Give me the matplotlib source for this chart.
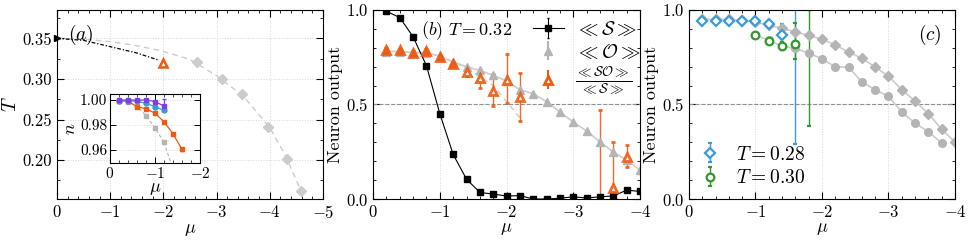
import matplotlib
matplotlib.use('Agg')
import matplotlib.pyplot as plt
from matplotlib.ticker import AutoMinorLocator, MultipleLocator

plt.rcParams['font.family'] = 'serif'
plt.rcParams['font.serif'] = ['cmr10', 'DejaVu Serif']
plt.rcParams['mathtext.fontset'] = 'cm'
plt.rcParams['axes.formatter.use_mathtext'] = True
plt.rcParams['axes.unicode_minus'] = True

ORANGE = '#ee5a10'
GRAY = '#b4b4b4'
LGRAY = '#cccccc'
BLUE = '#3b9bd6'
GREEN = '#2e9a2e'
PURPLE = '#7f3fe0'

# ---- panel (a): phase boundary
a_fit_mu = [0, -0.5, -1, -1.5, -2, -2.5, -3, -3.5, -4, -4.3, -4.6, -4.68]
a_fit_T = [0.35, 0.349, 0.346, 0.341, 0.334, 0.324, 0.304, 0.279, 0.240, 0.205, 0.160, 0.150]
a_pts_mu = [-2.64, -3.11, -3.47, -3.97, -4.33, -4.58]
a_pts_T = [0.3205, 0.300, 0.281, 0.2406, 0.2008, 0.162]
a_dot_mu = [0, -0.5, -1.0, -1.5, -1.9]
a_dot_T = [0.35, 0.3475, 0.3398, 0.332, 0.3234]
a_tri_mu = [-2.0]
a_tri_T = [0.32]

# inset: n vs mu
in_mu = [-0.2, -0.4, -0.6, -0.8, -1.0, -1.2, -1.4, -1.6]
in_purple = [1.0, 1.0, 1.0, 1.0, 0.9988, 0.9952]
in_cyan = [0.9995, 0.9995, 0.999, 0.9974, 0.9947, 0.9917]
in_orange = [0.9995, 0.999, 0.9947, 0.993, 0.9895, 0.9826, 0.973, 0.9605]
in_gray = [0.9994, 0.9986, 0.9954, 0.9874, 0.9778, 0.9662]
in_gray_tail_mu = [-1.2, -1.35]
in_gray_tail = [0.9662, 0.95]

# ---- panel (b): T = 0.32
b_mu = [-0.2, -0.4, -0.6, -0.8, -1.0, -1.2, -1.4, -1.6, -1.8, -2.0,
        -2.2, -2.4, -2.6, -2.8, -3.0, -3.2, -3.4, -3.6, -3.8, -4.0]
b_S = [0.993, 0.96, 0.858, 0.705, 0.452, 0.236, 0.105, 0.035, 0.026, 0.016,
       0.018, 0.0, 0.0, 0.004, 0.012, 0.005, 0.012, 0.016, 0.047, 0.04]
b_O = [0.78, 0.78, 0.775, 0.775, 0.755, 0.725, 0.70, 0.68, 0.654, 0.625,
       0.578, 0.557, 0.515, 0.46, 0.407, 0.36, 0.302, 0.249, 0.205, 0.153]
b_O_dash_mu = [-1.0, -1.4, -1.8, -2.2]
b_O_dash = [0.755, 0.695, 0.60, 0.43]
b_SO_mu = [-0.2, -0.4, -0.6, -0.8, -1.0, -1.2, -1.4, -1.6, -1.8, -2.0,
           -2.2, -3.4, -3.6, -3.8]
b_SO = [0.789, 0.786, 0.775, 0.782, 0.75, 0.715, 0.671, 0.638, 0.571, 0.631,
        0.539, -0.03, 0.056, 0.223]
b_SO_lo = [0.01, 0.01, 0.01, 0.01, 0.01, 0.01, 0.02, 0.049, 0.081, 0.123,
           0.128, 0.0, 0.056, 0.053]
b_SO_hi = [0.01, 0.01, 0.01, 0.01, 0.01, 0.01, 0.02, 0.046, 0.088, 0.137,
           0.129, 0.50, 0.246, 0.062]

# ---- panel (c): T = 0.28 and T = 0.30
c_mu = [-0.2, -0.4, -0.6, -0.8, -1.0, -1.2, -1.4, -1.6, -1.8, -2.0,
        -2.2, -2.4, -2.6, -2.8, -3.0, -3.2, -3.4, -3.6, -3.8, -4.0]
c_up = [0.95, 0.95, 0.95, 0.945, 0.935, 0.92, 0.903, 0.884, 0.865, 0.845,
        0.815, 0.777, 0.745, 0.698, 0.650, 0.578, 0.518, 0.452, 0.368, 0.302]
c_lo_mu = [-1.0, -1.2, -1.4, -1.6, -1.8, -2.0, -2.2, -2.4, -2.6, -2.8,
           -3.0, -3.2, -3.4, -3.6, -3.8]
c_lo = [0.868, 0.84, 0.808, 0.797, 0.771, 0.742, 0.698, 0.698, 0.619, 0.578,
        0.543, 0.46, 0.402, 0.355, 0.297]
c28_mu = [-0.2, -0.4, -0.6, -0.8, -1.0, -1.2, -1.4, -1.6]
c28 = [0.944, 0.944, 0.944, 0.944, 0.94, 0.926, 0.868, 1.05]
c28_lo = [0.005, 0.005, 0.005, 0.005, 0.01, 0.01, 0.02, 0.76]
c28_hi = [0.005, 0.005, 0.005, 0.005, 0.01, 0.01, 0.06, 0.0]
c30_mu = [-1.0, -1.2, -1.4, -1.6, -1.8]
c30 = [0.868, 0.838, 0.812, 0.821, 1.02]
c30_lo = [0.01, 0.01, 0.025, 0.078, 0.635]
c30_hi = [0.01, 0.01, 0.02, 0.11, 0.0]


def style(ax, xmax, ymaj, ymin_div):
    ax.set_xlim(0, xmax)
    ax.xaxis.set_major_locator(MultipleLocator(1))
    ax.xaxis.set_minor_locator(AutoMinorLocator(5))
    ax.yaxis.set_major_locator(MultipleLocator(ymaj))
    ax.yaxis.set_minor_locator(AutoMinorLocator(ymin_div))
    ax.tick_params(which='both', direction='in', top=True, right=True, labelsize=12)
    ax.tick_params(which='major', length=5, width=0.8)
    ax.tick_params(which='minor', length=2.5, width=0.6)
    ax.grid(True, ls=':', color='#d8d8d8', lw=0.7)
    ax.set_axisbelow(True)
    ax.set_xlabel(r'$\mu$', fontsize=13, labelpad=1)


fig = plt.figure(figsize=(9.69, 2.43), dpi=100)
axa = fig.add_axes([0.0588, 0.181, 0.2745, 0.778])
axb = fig.add_axes([0.385, 0.181, 0.2755, 0.778])
axc = fig.add_axes([0.711, 0.181, 0.2745, 0.778])

# (a)
style(axa, -5, 0.05, 2)
axa.set_ylim(0.152, 0.385)
axa.yaxis.set_major_formatter(matplotlib.ticker.FormatStrFormatter('%.2f'))
axa.plot(a_fit_mu, a_fit_T, ls=(0, (4, 3)), color=LGRAY, lw=1.0)
axa.plot(a_pts_mu, a_pts_T, 'D', color=LGRAY, ms=5.5, mec=LGRAY)
axa.plot(a_dot_mu, a_dot_T, ls=(0, (3, 1.5, 1, 1.5)), color='black', lw=0.9)
axa.plot([a_dot_mu[0]], [a_dot_T[0]], '>', color='black', ms=5, clip_on=False)
axa.plot(a_tri_mu, a_tri_T, '^', mfc='white', mec=ORANGE, mew=1.8, ms=6)
axa.set_ylabel(r'$T$', fontsize=14, labelpad=2)
axa.text(0.04, 0.93, r'$(a)$', transform=axa.transAxes, fontsize=14, va='top')

ins = fig.add_axes([0.1135, 0.329, 0.0929, 0.284])
ins.set_xlim(0, -2)
ins.set_ylim(0.9496, 1.0048)
ins.xaxis.set_major_locator(MultipleLocator(1))
ins.xaxis.set_minor_locator(AutoMinorLocator(5))
ins.yaxis.set_major_locator(MultipleLocator(0.02))
ins.yaxis.set_major_formatter(matplotlib.ticker.FormatStrFormatter('%.2f'))
ins.tick_params(which='both', direction='in', top=True, right=True, labelsize=11, pad=2)
ins.tick_params(which='major', length=4, width=0.7)
ins.tick_params(which='minor', length=2, width=0.5)
ins.grid(True, ls=':', color='#d8d8d8', lw=0.6)
ins.plot(in_mu[:6], in_gray, ls=(0, (3, 2)), color=GRAY, lw=0.8, marker='s', ms=3)
ins.plot(in_gray_tail_mu, in_gray_tail, ls=(0, (3, 2)), color=GRAY, lw=0.8)
ins.errorbar(in_mu, in_orange, yerr=0.001, color=ORANGE, lw=0.9, marker='s', ms=3, capsize=1.2)
ins.errorbar(in_mu[:6], in_cyan, yerr=0.0008, color=BLUE, lw=0.9, marker='o', ms=3.5, capsize=1.2)
ins.errorbar(in_mu[:6], in_purple, yerr=[[0.0005] * 5 + [0.001], [0.0005] * 5 + [0.006]],
             color=PURPLE, lw=0.9, marker='s', ms=3, capsize=1.2)
ins.set_xlabel(r'$\mu$', fontsize=13, labelpad=0)
ins.set_ylabel(r'$n$', fontsize=13, labelpad=1)

# (b)
style(axb, -4, 0.5, 5)
axb.set_ylim(0, 1.0)
axb.axhline(0.5, ls='--', color='#909090', lw=0.8)
axb.plot(b_mu, b_O, '-', color=LGRAY, lw=1.2)
axb.plot(b_O_dash_mu, b_O_dash, ls=(0, (4, 3)), color=LGRAY, lw=1.0)
hO = axb.errorbar(b_mu, b_O, yerr=0.005, fmt='^', color=GRAY, ms=6, capsize=0)
hS = axb.errorbar(b_mu, b_S, yerr=0.005, fmt='s-', color='black', lw=0.8, ms=5, capsize=1)
for i, m in enumerate(b_SO_mu):
    fc = ORANGE if m >= -1.2 else 'white'
    axb.errorbar([m], [b_SO[i]], yerr=[[b_SO_lo[i]], [b_SO_hi[i]]], fmt='^', color=ORANGE,
                 mfc=fc, mec=ORANGE, mew=2.0, ms=6, lw=1.0, capsize=1.5, ecolor=ORANGE, alpha=0.9)
hSO = axb.errorbar([], [], yerr=[], fmt='^', color=ORANGE, mfc='white', mew=2.0, ms=6, capsize=1.5)
axb.set_ylabel('Neuron output', fontsize=13, labelpad=2)
axb.text(0.18, 0.95, r'$(b)\ T = 0.32$', transform=axb.transAxes, fontsize=13, va='top')
axb.legend([hS, hO, hSO],
           [r'$\ll \mathcal{S} \gg$', r'$\ll \mathcal{O} \gg$',
            r'$\frac{\ll \mathcal{SO} \gg}{\ll \mathcal{S} \gg}$'],
           loc='upper right', bbox_to_anchor=(1.04, 1.0), frameon=False, fontsize=14,
           handlelength=1.6, borderaxespad=0.1, labelspacing=0.2, handletextpad=0.6)

# (c)
style(axc, -4, 0.5, 5)
axc.set_ylim(0, 1.0)
axc.axhline(0.5, ls='--', color='#909090', lw=0.8)
axc.plot(c_mu, c_up, '-', color=LGRAY, lw=1.2)
axc.plot(c_lo_mu, c_lo, '-', color=LGRAY, lw=1.2)
axc.errorbar(c_mu, c_up, yerr=0.01, fmt='D', color=GRAY, ms=5, capsize=0)
axc.errorbar(c_lo_mu, c_lo, yerr=0.012, fmt='o', color=GRAY, ms=5.5, capsize=0)
h28 = axc.errorbar(c28_mu, c28, yerr=[c28_lo, c28_hi], fmt='D', color=BLUE, mfc='white',
                   mew=1.6, ms=5.5, lw=1.0, capsize=1.5)
h30 = axc.errorbar(c30_mu, c30, yerr=[c30_lo, c30_hi], fmt='o', color=GREEN, mfc='white',
                   mew=1.6, ms=5.5, lw=1.0, capsize=1.5)
axc.set_ylabel('Neuron output', fontsize=13, labelpad=2)
axc.text(0.95, 0.93, r'$(c)$', transform=axc.transAxes, fontsize=14, va='top', ha='right')
axc.legend([h28, h30], [r'$T = 0.28$', r'$T = 0.30$'], loc='lower left', frameon=False,
           fontsize=14, handlelength=1.0, borderaxespad=0.2, labelspacing=0.3)

fig.savefig('out.png', dpi=100)
